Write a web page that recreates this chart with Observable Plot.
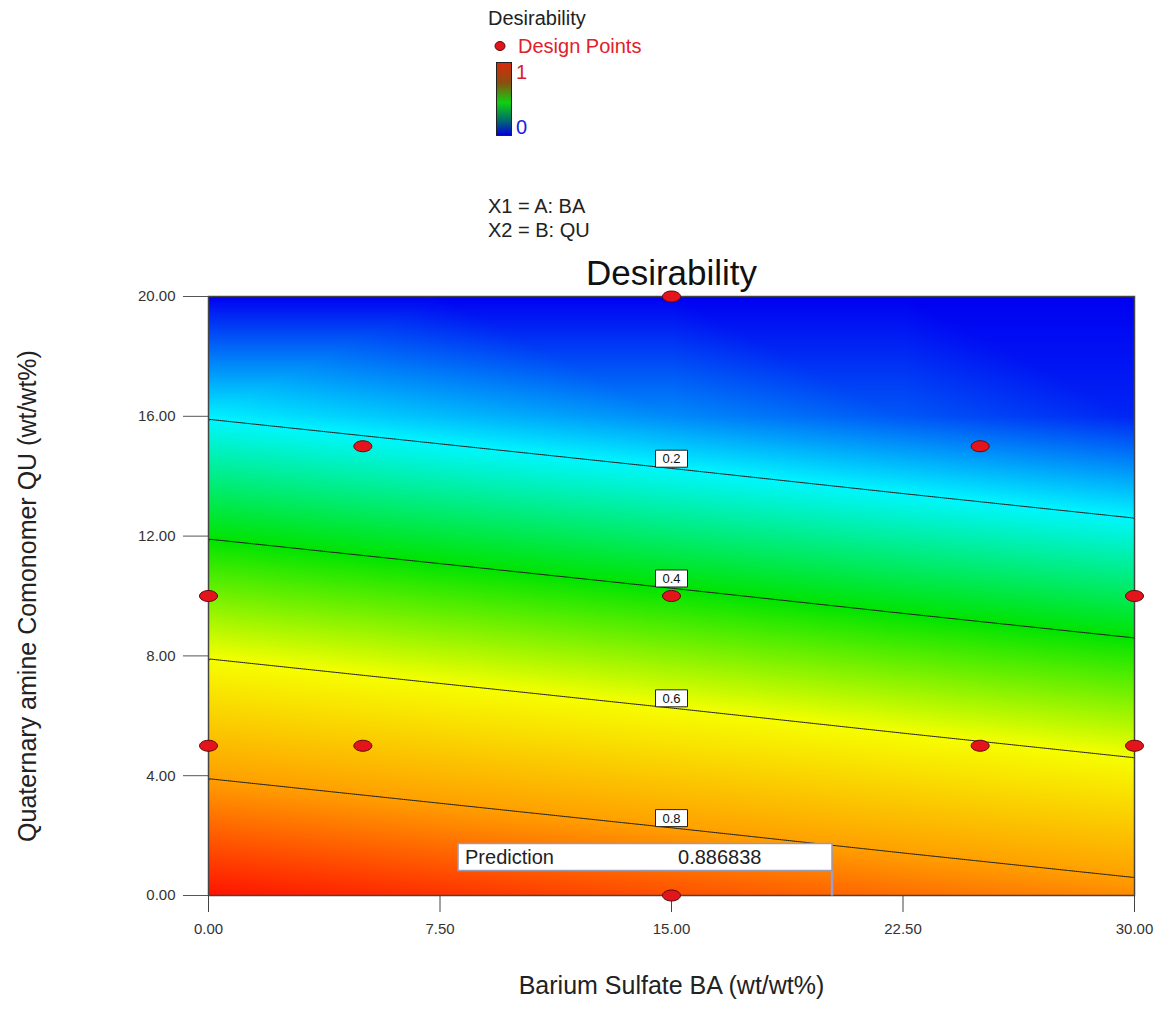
<!DOCTYPE html>
<html>
<head>
<meta charset="utf-8">
<script src="https://cdn.jsdelivr.net/npm/d3@7"></script>
<script src="https://cdn.jsdelivr.net/npm/@observablehq/plot@0.6"></script>
<style>
  html, body { margin: 0; padding: 0; background: #fff; }
  body { position: relative; width: 1163px; height: 1028px; overflow: hidden;
         font-family: Arial, "Liberation Sans", sans-serif; }
  .note { position: absolute; font-size: 20px; color: #222; white-space: nowrap; line-height: 1; }
  #chart { position: absolute; left: 0; top: 0; }
</style>
</head>
<body>
<div class="note" style="left:488px; top:8px;">Desirability</div>
<svg style="position:absolute; left:493px; top:40px;" width="14" height="12">
  <ellipse cx="7" cy="6" rx="5" ry="4.5" fill="#e3141c" stroke="#5a0a0a" stroke-width="1"></ellipse>
</svg>
<div class="note" style="left:518px; top:36px; color:#e3202a;">Design Points</div>
<div style="position:absolute; left:496px; top:62px; width:14px; height:72px; border:1px solid #222;
            background: linear-gradient(#d82a0a 0%, #8a5010 28%, #10d010 55%, #006a70 80%, #0000d8 100%);"></div>
<div class="note" style="left:516px; top:62px; color:#d8202a;">1</div>
<div class="note" style="left:516px; top:117px; color:#2020e0;">0</div>
<div class="note" style="left:488px; top:196px;">X1 = A: BA</div>
<div class="note" style="left:488px; top:220px;">X2 = B: QU</div>
<div id="chart"></div>
<script>
// Factor grid (A: BA, B: QU) and the desirability at each grid node
const baGrid = [0, 7.5, 15, 22.5, 30];
const quGrid = [0, 4, 8, 12, 16, 20];
const desirabilityQU0  = [0.995, 0.954, 0.913, 0.871, 0.830];
const desirabilityQU4  = [0.795, 0.754, 0.713, 0.671, 0.630];
const desirabilityQU8  = [0.595, 0.554, 0.513, 0.471, 0.430];
const desirabilityQU12 = [0.395, 0.354, 0.313, 0.271, 0.230];
const desirabilityQU16 = [0.195, 0.154, 0.113, 0.071, 0.030];
const desirabilityQU20 = [0.000, 0.000, 0.000, 0.000, 0.000];
const desirabilityRows = [desirabilityQU0, desirabilityQU4, desirabilityQU8,
                          desirabilityQU12, desirabilityQU16, desirabilityQU20];

// Contour levels and where their labels sit (at BA = 15)
const contourLevels = [0.2, 0.4, 0.6, 0.8];
const labelBA = [15, 15, 15, 15];
const labelQU = [14.3, 10.3, 6.3, 2.3];

// Design points of the experiment
const designBA = [15, 5, 25, 0, 15, 30, 0, 5, 25, 30, 15];
const designQU = [20, 15, 15, 10, 10, 10, 5, 5, 5, 5, 0];

// Prediction flag
const predictionBA = [20.2];
const predictionQU = [0];
const predictionValue = [0.886838];

// Axis ticks
const baTicks = [0, 7.5, 15, 22.5, 30];
const quTicks = [0, 4, 8, 12, 16, 20];

const grid = [];
quGrid.forEach((qu, i) => baGrid.forEach((ba, j) => grid.push({ba, qu, d: desirabilityRows[i][j]})));
const labels = contourLevels.map((level, i) => ({ba: labelBA[i], qu: labelQU[i], level}));
const design = designBA.map((ba, i) => ({ba, qu: designQU[i]}));
const prediction = predictionBA.map((ba, i) => ({ba, qu: predictionQU[i], value: predictionValue[i]}));

const k = 0.5523;
function ellipse(rx, ry) {
  return {
    draw(ctx) {
      ctx.moveTo(rx, 0);
      ctx.bezierCurveTo(rx, ry * k, rx * k, ry, 0, ry);
      ctx.bezierCurveTo(-rx * k, ry, -rx, ry * k, -rx, 0);
      ctx.bezierCurveTo(-rx, -ry * k, -rx * k, -ry, 0, -ry);
      ctx.bezierCurveTo(rx * k, -ry, rx, -ry * k, rx, 0);
      ctx.closePath();
    }
  };
}
function box(x0, y0, x1, y1) {
  return { draw(ctx) { ctx.rect(x0, y0, x1 - x0, y1 - y0); } };
}
const pole = { draw(ctx) { ctx.moveTo(0, -25); ctx.lineTo(0, 0); } };
const fmt = d => d.toFixed(2);

const chart = Plot.plot({
  width: 1163,
  height: 1028,
  marginLeft: 208,
  marginRight: 29,
  marginTop: 296,
  marginBottom: 133,
  style: {fontFamily: 'Arial, "Liberation Sans", sans-serif', color: "#333", background: "transparent"},
  x: {domain: d3.extent(baGrid)},
  y: {domain: d3.extent(quGrid)},
  color: {
    type: "linear",
    domain: [0, 0.2, 0.4, 0.6, 0.8, 1],
    range: ["#0000f2", "#00f6ff", "#00e400", "#f6ff00", "#ffa000", "#ff1000"],
    interpolate: "rgb",
    clamp: true
  },
  marks: [
    Plot.raster(grid, {
      x: "ba", y: "qu", fill: "d", interpolate: "barycentric",
      x1: d3.min(baGrid), x2: d3.max(baGrid), y1: d3.min(quGrid), y2: d3.max(quGrid)
    }),
    Plot.contour(grid, {
      x: "ba", y: "qu", value: "d", interpolate: "barycentric",
      thresholds: contourLevels, fill: "none", stroke: "#1a1a1a", strokeWidth: 1,
      x1: d3.min(baGrid), x2: d3.max(baGrid), y1: d3.min(quGrid), y2: d3.max(quGrid)
    }),
    Plot.frame({stroke: "#444", strokeWidth: 1.5}),
    // axis tick marks
    Plot.axisY({ticks: quTicks, tickFormat: () => "", tickSize: 25, label: null, stroke: "#555"}),
    Plot.axisX({ticks: baTicks, tickFormat: () => "", tickSize: 17, label: null, stroke: "#444"}),
    // axis tick labels
    Plot.text(quTicks, {y: d => d, text: fmt, frameAnchor: "left", textAnchor: "end", dx: -33, fontSize: 15, fill: "#333"}),
    Plot.text(baTicks, {x: d => d, text: fmt, frameAnchor: "bottom", lineAnchor: "middle", dy: 34, fontSize: 15, fill: "#333"}),
    // contour labels
    Plot.dot(labels, {x: "ba", y: "qu", symbol: box(-16, -17, 16, 0), fill: "white", stroke: "#222", strokeWidth: 1}),
    Plot.text(labels, {x: "ba", y: "qu", text: d => String(d.level), dy: -8, fontSize: 13, fill: "#111"}),
    // prediction flag
    Plot.dot(prediction, {x: "ba", y: "qu", symbol: pole, stroke: "#9d9dc8", strokeWidth: 2.5, fill: "none"}),
    Plot.dot(prediction, {x: "ba", y: "qu", symbol: box(-374, -52, 0, -25), fill: "white", stroke: "#9a9ab4", strokeWidth: 1.5}),
    Plot.text(prediction, {x: "ba", y: "qu", text: () => "Prediction", dx: -367, dy: -38, textAnchor: "start", fontSize: 20, fill: "#222"}),
    Plot.text(prediction, {x: "ba", y: "qu", text: d => String(d.value), dx: -154, dy: -38, textAnchor: "start", fontSize: 20, fill: "#222"}),
    // design points
    Plot.dot(design, {x: "ba", y: "qu", symbol: ellipse(9, 5.5), fill: "#e3141c", stroke: "#5a0a0a", strokeWidth: 1}),
    // titles
    Plot.text(["Desirability"], {frameAnchor: "top", lineAnchor: "middle", dy: -23, fontSize: 35, fill: "#111"}),
    Plot.text(["Barium Sulfate BA (wt/wt%)"], {frameAnchor: "bottom", lineAnchor: "middle", dy: 90, fontSize: 25, fill: "#222"}),
    Plot.text(["Quaternary amine Comonomer QU (wt/wt%)"], {frameAnchor: "left", textAnchor: "middle", lineAnchor: "middle",
               dx: -181, rotate: -90, fontSize: 25, fill: "#222"})
  ]
});
document.getElementById("chart").append(chart);
</script>
</body>
</html>
